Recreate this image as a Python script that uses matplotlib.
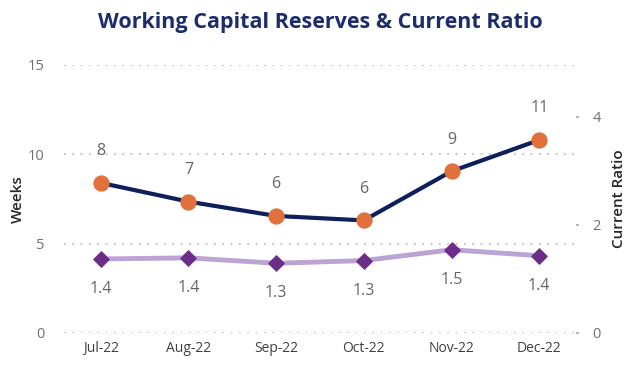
import matplotlib

matplotlib.use("Agg")

import matplotlib.pyplot as plt

months = ["Jul-22", "Aug-22", "Sep-22", "Oct-22", "Nov-22", "Dec-22"]
weeks = [8.4, 7.35, 6.55, 6.3, 9.05, 10.8]
weeks_labels = ["8", "7", "6", "6", "9", "11"]
current_ratio = [1.37, 1.39, 1.29, 1.34, 1.54, 1.43]
ratio_labels = ["1.4", "1.4", "1.3", "1.3", "1.5", "1.4"]

navy = "#0e1f5b"
orange = "#e2703a"
lilac = "#bba3d3"
purple = "#6b2d87"
label_gray = "#666666"
tick_gray = "#707070"

plt.rcParams["font.family"] = ["Open Sans", "DejaVu Sans"]

fig = plt.figure(figsize=(6.4, 3.69), dpi=100)
ax = fig.add_axes([0.10, 0.0976, 0.80, 0.7264])
ax2 = ax.twinx()

x = range(len(months))

ax.plot(x, weeks, color=navy, linewidth=3, zorder=3)
ax.scatter(x, weeks, s=115, color=orange, zorder=4)
for xi, yi, lab in zip(x, weeks, weeks_labels):
    ax.annotate(lab, (xi, yi), xytext=(0, 17), textcoords="offset points",
                ha="center", va="bottom", fontsize=11.5, color=label_gray)

ax2.plot(x, current_ratio, color=lilac, linewidth=3.5, zorder=3)
ax2.scatter(x, current_ratio, s=60, marker="D", color=purple, zorder=4)
for xi, yi, lab in zip(x, current_ratio, ratio_labels):
    ax2.annotate(lab, (xi, yi), xytext=(0, -16), textcoords="offset points",
                 ha="center", va="top", fontsize=11.5, color=label_gray)

ax.set_xlim(-0.42, 5.42)
ax.set_ylim(0, 15)
ax.set_yticks([0, 5, 10, 15])
ax2.set_ylim(0, 4.96)
ax2.set_yticks([0, 2, 4])

ax.set_xticks(list(x))
ax.set_xticklabels(months)
ax.yaxis.grid(True, linestyle=(0, (1, 4)), color="#b5b5b5", linewidth=1.2)
ax.set_axisbelow(True)

for a in (ax, ax2):
    for s in a.spines.values():
        s.set_visible(False)

ax.tick_params(axis="x", length=0, pad=6, labelsize=10, labelcolor="#404040")
ax.tick_params(axis="y", length=0, pad=14, labelsize=10.5, labelcolor=tick_gray)
ax2.tick_params(axis="y", length=2, width=1.5, color="#b5b5b5", pad=10,
                labelsize=10.5, labelcolor=tick_gray)

ax.set_ylabel("Weeks", fontsize=11, color="#262626", labelpad=2,
              fontweight="semibold")
ax2.set_ylabel("Current Ratio", fontsize=11, color="#262626", labelpad=8,
               fontweight="semibold")

fig.text(0.5, 0.94, "Working Capital Reserves & Current Ratio", ha="center",
         va="center", fontsize=15.5, fontweight="bold", color="#1b2d6b")

fig.savefig("out.png", dpi=100)
plt.close(fig)
